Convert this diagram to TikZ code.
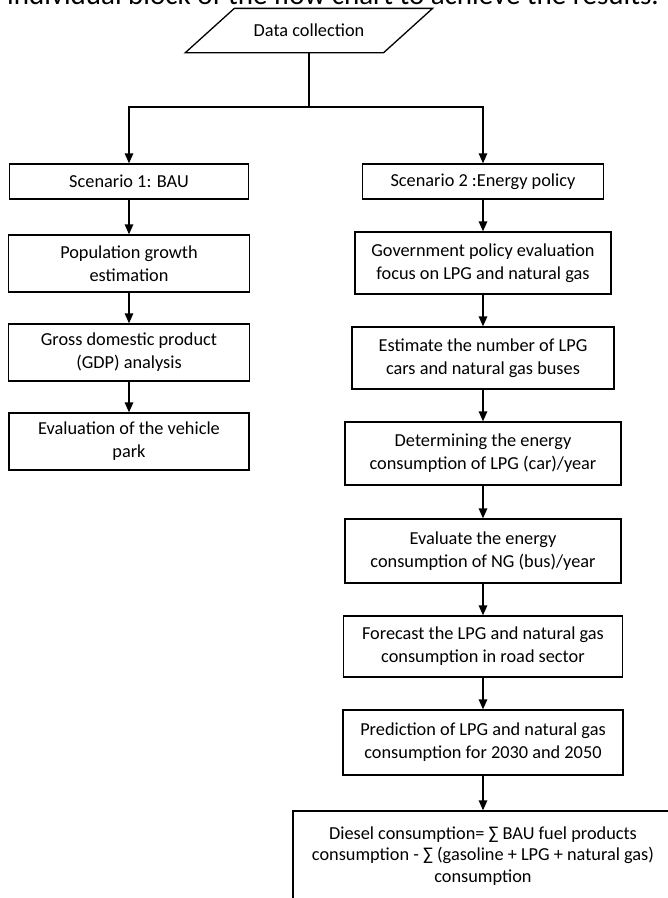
\documentclass[tikz,border=0pt]{standalone}
\usepackage{fontspec}
\setmainfont{Carlito}
\usetikzlibrary{arrows.meta,calc}
\tikzset{
  box/.style={draw, line width=1.3pt, align=center, inner sep=0pt,
    font=\fontsize{18.3}{23}\selectfont},
  arr/.style={line width=1.3pt, -{Triangle[length=10pt,width=8.5pt]}},
  ln/.style={line width=1.3pt}
}
\begin{document}
\begin{tikzpicture}[x=1pt,y=-1pt]
\useasboundingbox[fill=white] (0,0) rectangle (668,898);
\begin{scope}
\clip (0,0) rectangle (668,898);
% cut-off caption line at the top
\node[anchor=base west, inner sep=0pt, font=\fontsize{29}{34}\selectfont] (cap) at (7,4)
  {individual block of the flow chart to achieve the results.};
% data collection (parallelogram)
\node[box, draw=none, minimum width=197pt, minimum height=43pt] (dc) at (309,30.5) {Data collection};
\draw[ln] ($(dc.north west)+(24.5,0)$) -- ($(dc.north east)+(24.5,0)$)
  -- ($(dc.south east)+(-24.5,0)$) -- ($(dc.south west)+(-24.5,0)$) -- cycle;
% left column
\node[box, minimum width=239pt, minimum height=35pt] (s1) at (129,181.5) {Scenario 1: BAU};
\node[box, minimum width=241pt, minimum height=57pt] (pop) at (129,263.5) {Population growth\\estimation};
\node[box, minimum width=241pt, minimum height=57pt] (gdp) at (129,352.5) {Gross domestic product\\(GDP) analysis};
\node[box, minimum width=240pt, minimum height=57pt] (veh) at (129,441.5) {Evaluation of the vehicle\\park};
% right column
\node[box, minimum width=241pt, minimum height=35pt] (s2) at (483,181.5) {Scenario 2 :Energy policy};
\node[box, minimum width=256pt, minimum height=62pt] (gov) at (483,263) {Government policy evaluation\\focus on LPG and natural gas};
\node[box, minimum width=262pt, minimum height=62pt] (est) at (483,358) {Estimate the number of LPG\\cars and natural gas buses};
\node[box, minimum width=276pt, minimum height=63pt] (det) at (483,453.5) {Determining the energy\\consumption of LPG (car)/year};
\node[box, minimum width=276pt, minimum height=64pt] (evl) at (483,551) {Evaluate the energy\\consumption of NG (bus)/year};
\node[box, minimum width=279pt, minimum height=61pt] (fc) at (483,646.5) {Forecast the LPG and natural gas\\consumption in road sector};
\node[box, minimum width=280pt, minimum height=65pt] (pre) at (483,742.5) {Prediction of LPG and natural gas\\consumption for 2030 and 2050};
\node[box, minimum width=380pt, minimum height=90pt, font=\fontsize{18.3}{21.5}\selectfont] (dsl) at (483,856)
  {Diesel consumption= ∑ BAU fuel products\\consumption - ∑ (gasoline + LPG + natural gas)\\consumption};
% connectors
\coordinate (j) at (309,107);
\draw[ln] (dc.south) -- (j);
\draw[arr] (j) -| (s1.north);
\draw[arr] (j) -| (s2.north);
\draw[arr] (s1) -- (pop);
\draw[arr] (pop) -- (gdp);
\draw[arr] (gdp) -- (veh);
\draw[arr] (s2) -- (gov);
\draw[arr] (gov) -- (est);
\draw[arr] (est) -- (det);
\draw[arr] (det) -- (evl);
\draw[arr] (evl) -- (fc);
\draw[arr] (fc) -- (pre);
\draw[arr] (pre) -- (dsl);
\end{scope}
\end{tikzpicture}
\end{document}
